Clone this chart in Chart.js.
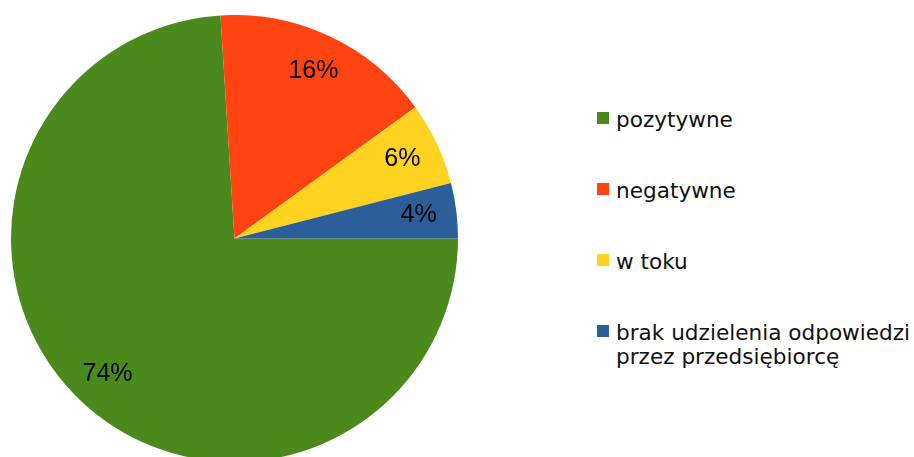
<!DOCTYPE html>
<html>
<head>
<meta charset="utf-8">
<script src="https://cdn.jsdelivr.net/npm/chart.js@4/dist/chart.umd.min.js"></script>
<style>
  html, body { margin: 0; padding: 0; background: #fff; overflow: hidden; }
  body { width: 914px; height: 457px; position: relative; }
  #pie { position: absolute; left: 11px; top: 15px; }
  #legend { position: absolute; left: 597px; top: 108px; font-family: "DejaVu Sans", sans-serif; font-size: 21.6px; color: #111; }
  .item { display: flex; align-items: flex-start; height: 71px; line-height: 24px; }
  .box { width: 12px; height: 12px; margin-top: 4px; margin-right: 7px; flex: none; }
</style>
</head>
<body>
<canvas id="pie" width="447" height="447"></canvas>
<div id="legend"></div>
<script>
const labels = ['pozytywne', 'negatywne', 'w toku', 'brak udzielenia odpowiedzi\nprzez przedsiębiorcę'];
const values = [74, 16, 6, 4];
const colors = ['#4a8a1c', '#ff4412', '#ffd320', '#2c5f99'];

// napisy z procentami na wycinkach
const percentLabels = {
    id: 'percentLabels',
    afterDatasetsDraw(chart) {
        const ctx = chart.ctx;
        const arcs = chart.getDatasetMeta(0).data;
        ctx.save();
        ctx.font = '25px "Liberation Sans", Arial, sans-serif';
        ctx.fillStyle = '#000';
        ctx.textAlign = 'center';
        ctx.textBaseline = 'middle';
        arcs.forEach((arc, i) => {
            const p = arc.getProps(['x', 'y', 'startAngle', 'endAngle', 'outerRadius'], true);
            const mid = (p.startAngle + p.endAngle) / 2;
            const r = p.outerRadius * 0.83;
            ctx.fillText(values[i] + '%', p.x + Math.cos(mid) * r, p.y + Math.sin(mid) * r);
        });
        ctx.restore();
    }
};

new Chart(document.getElementById('pie'), {
    type: 'pie',
    data: {
        labels: labels,
        datasets: [{
            data: values,
            backgroundColor: colors,
            borderWidth: 0,
            hoverOffset: 0,
            offset: 0
        }]
    },
    options: {
        responsive: false,
        animation: false,
        rotation: 90,
        layout: { padding: 0 },
        plugins: {
            legend: { display: false },
            tooltip: { enabled: false }
        }
    },
    plugins: [percentLabels]
});

// legenda
const legend = document.getElementById('legend');
labels.forEach((label, i) => {
    const item = document.createElement('div');
    item.className = 'item';
    const box = document.createElement('div');
    box.className = 'box';
    box.style.background = colors[i];
    const text = document.createElement('div');
    text.innerHTML = label.split('\n').join('<br>');
    item.appendChild(box);
    item.appendChild(text);
    legend.appendChild(item);
});
</script>
</body>
</html>
